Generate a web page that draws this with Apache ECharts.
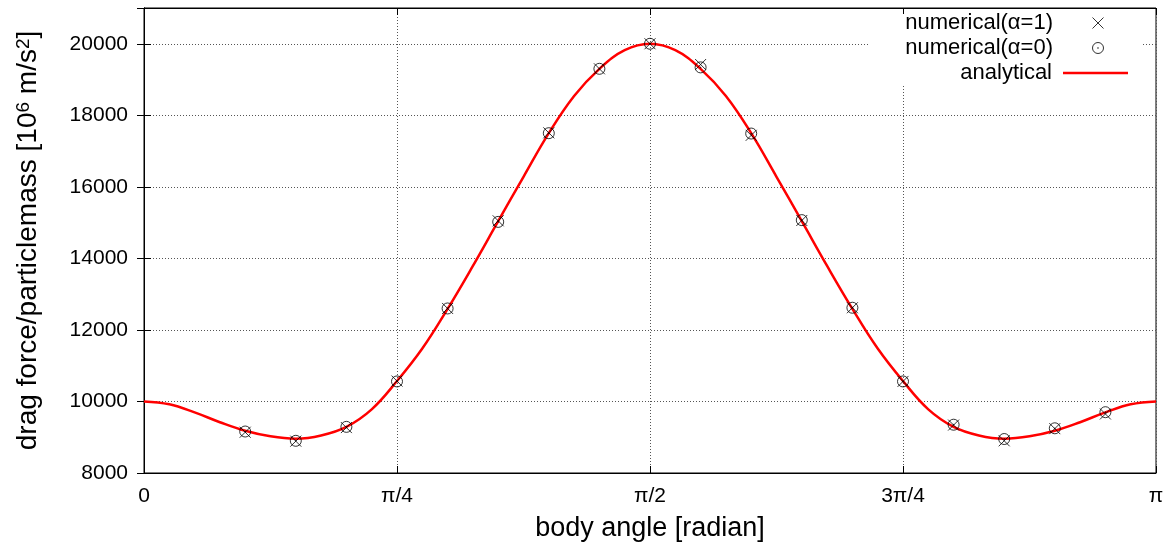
<!DOCTYPE html>
<html>
<head>
<meta charset="utf-8">
<script src="https://cdn.jsdelivr.net/npm/echarts@6/dist/echarts.min.js"></script>
<style>
  html, body { margin: 0; padding: 0; background: #fff; }
  #chart { width: 1173px; height: 547px; }
</style>
</head>
<body>
<div id="chart"></div>
<script>
// Body angle in units of pi (0 .. 1 means 0 .. pi)
const curveAngle = [0, 0.025, 0.05, 0.075, 0.1, 0.125, 0.15, 0.175, 0.2, 0.225, 0.25,
  0.275, 0.3, 0.325, 0.35, 0.375, 0.4, 0.425, 0.45, 0.475, 0.5,
  0.525, 0.55, 0.575, 0.6, 0.625, 0.65, 0.675, 0.7, 0.725, 0.75,
  0.775, 0.8, 0.825, 0.85, 0.875, 0.9, 0.925, 0.95, 0.975, 1];
// Analytical drag force per particle mass [10^6 m/s^2]
const analytical = [10000, 9920, 9695, 9420, 9180, 9025, 8960, 9050, 9290, 9780, 10570,
  11480, 12590, 13790, 15040, 16280, 17500, 18540, 19300, 19820, 20000,
  19820, 19300, 18540, 17500, 16280, 15040, 13790, 12590, 11480, 10570,
  9780, 9290, 9050, 8960, 9025, 9180, 9420, 9695, 9920, 10000];

// Numerical samples
const sampleAngle = [0.1, 0.15, 0.2, 0.25, 0.3, 0.35, 0.4, 0.45, 0.5,
  0.55, 0.6, 0.65, 0.7, 0.75, 0.8, 0.85, 0.9, 0.95];
const numericalA1 = [9140, 8890, 9270, 10570, 12600, 15050, 17510, 19300, 20000,
  19420, 17440, 15060, 12620, 10560, 9340, 8900, 9240, 9650];
const numericalA0 = [9160, 8900, 9290, 10560, 12600, 15020, 17500, 19300, 20000,
  19340, 17490, 15070, 12620, 10560, 9350, 8950, 9250, 9700];

const xTickValues = [0, 0.25, 0.5, 0.75, 1];
const xTickLabels = ['0', 'π/4', 'π/2', '3π/4', 'π'];

const seriesNames = ['numerical(α=1)', 'numerical(α=0)', 'analytical'];

const FONT = '"Liberation Sans", Arial, Helvetica, sans-serif';
const crossSymbol = 'path://M0,0L12,12M12,0L0,12';
const dotCircleSymbol = 'path://M0,6A6,6 0 1,1 12,6A6,6 0 1,1 0,6ZM5.6,6A0.4,0.4 0 1,1 6.4,6A0.4,0.4 0 1,1 5.6,6Z';

const pairs = (xs, ys) => xs.map((x, i) => [x, ys[i]]);

const gridLine = { show: true, lineStyle: { color: '#555', width: 1, type: [1, 2] } };
const hollow = { color: 'rgba(0,0,0,0)', borderColor: '#000', borderWidth: 1 };

const xCommon = {
  type: 'value', min: 0, max: 1, interval: 0.25,
  axisLine: { show: true, lineStyle: { color: '#000', width: 1 } },
  axisTick: { show: true, inside: true, length: 7, lineStyle: { color: '#000' } }
};
const yCommon = {
  type: 'value', min: 8000, max: 21000, interval: 2000,
  axisLine: { show: true, lineStyle: { color: '#000', width: 1 } },
  axisTick: { show: true, inside: true, length: 7, lineStyle: { color: '#000' } }
};

const legendBase = {
  orient: 'horizontal', align: 'right', padding: 0, z: 10,
  textStyle: { fontFamily: FONT, fontSize: 22, color: '#000' },
  selectedMode: false
};

const chart = echarts.init(document.getElementById('chart'), null, { renderer: 'canvas' });
chart.setOption({
  animation: false,
  backgroundColor: '#fff',
  grid: { left: 144, right: 17, top: 8, bottom: 73, show: true, borderColor: '#000', borderWidth: 1 },
  xAxis: [
    Object.assign({}, xCommon, {
      position: 'bottom',
      name: 'body angle [radian]',
      nameLocation: 'middle',
      nameGap: 42,
      nameTextStyle: { fontFamily: FONT, fontSize: 27, color: '#000' },
      axisLabel: {
        margin: 13, fontFamily: FONT, fontSize: 21, color: '#000',
        formatter: v => { const i = xTickValues.findIndex(t => Math.abs(t - v) < 1e-9); return i >= 0 ? xTickLabels[i] : ''; }
      },
      splitLine: gridLine
    }),
    Object.assign({}, xCommon, { position: 'top', axisLabel: { show: false }, splitLine: { show: false } })
  ],
  yAxis: [
    Object.assign({}, yCommon, {
      position: 'left',
      name: 'drag force/particlemass [10{sup|6} m/s{sup|2}]',
      nameLocation: 'middle',
      nameGap: 102,
      nameTextStyle: {
        fontFamily: FONT, fontSize: 28, color: '#000',
        rich: { sup: { fontFamily: FONT, fontSize: 19, color: '#000', verticalAlign: 'top' } }
      },
      axisLabel: { margin: 16, fontFamily: FONT, fontSize: 21, color: '#000', showMaxLabel: false, formatter: v => String(v) },
      splitLine: gridLine
    }),
    Object.assign({}, yCommon, { position: 'right', axisLabel: { show: false }, splitLine: { show: false } })
  ],
  graphic: [{
    type: 'rect', left: 870, top: 14, z: 5,
    shape: { width: 273, height: 70 },
    style: { fill: '#fff' }, silent: true
  }],
  legend: [
    Object.assign({}, legendBase, {
      data: [seriesNames[0]], right: 69, top: 12, itemWidth: 80, itemHeight: 11,
      itemStyle: hollow
    }),
    Object.assign({}, legendBase, {
      data: [seriesNames[1]], right: 69, top: 37, itemWidth: 80, itemHeight: 11,
      itemStyle: hollow
    }),
    Object.assign({}, legendBase, {
      data: [{ name: seriesNames[2], icon: 'rect' }], right: 45, top: 62, itemWidth: 65, itemHeight: 2.5,
      textStyle: { fontFamily: FONT, fontSize: 22, color: '#000', padding: [0, 6, 0, 0] }
    })
  ],
  series: [
    {
      name: seriesNames[2], type: 'line', xAxisIndex: 0, yAxisIndex: 0,
      data: pairs(curveAngle, analytical),
      smooth: 0.4, showSymbol: false, z: 2,
      lineStyle: { color: '#ff0000', width: 2.5 },
      itemStyle: { color: '#ff0000' },
      emphasis: { disabled: true }
    },
    {
      name: seriesNames[1], type: 'scatter', xAxisIndex: 0, yAxisIndex: 0,
      data: pairs(sampleAngle, numericalA0),
      symbol: dotCircleSymbol, symbolSize: 11, z: 3,
      itemStyle: hollow,
      emphasis: { disabled: true }
    },
    {
      name: seriesNames[0], type: 'scatter', xAxisIndex: 0, yAxisIndex: 0,
      data: pairs(sampleAngle, numericalA1),
      symbol: crossSymbol, symbolSize: 11, z: 4,
      itemStyle: hollow,
      emphasis: { disabled: true }
    }
  ]
});
</script>
</body>
</html>
